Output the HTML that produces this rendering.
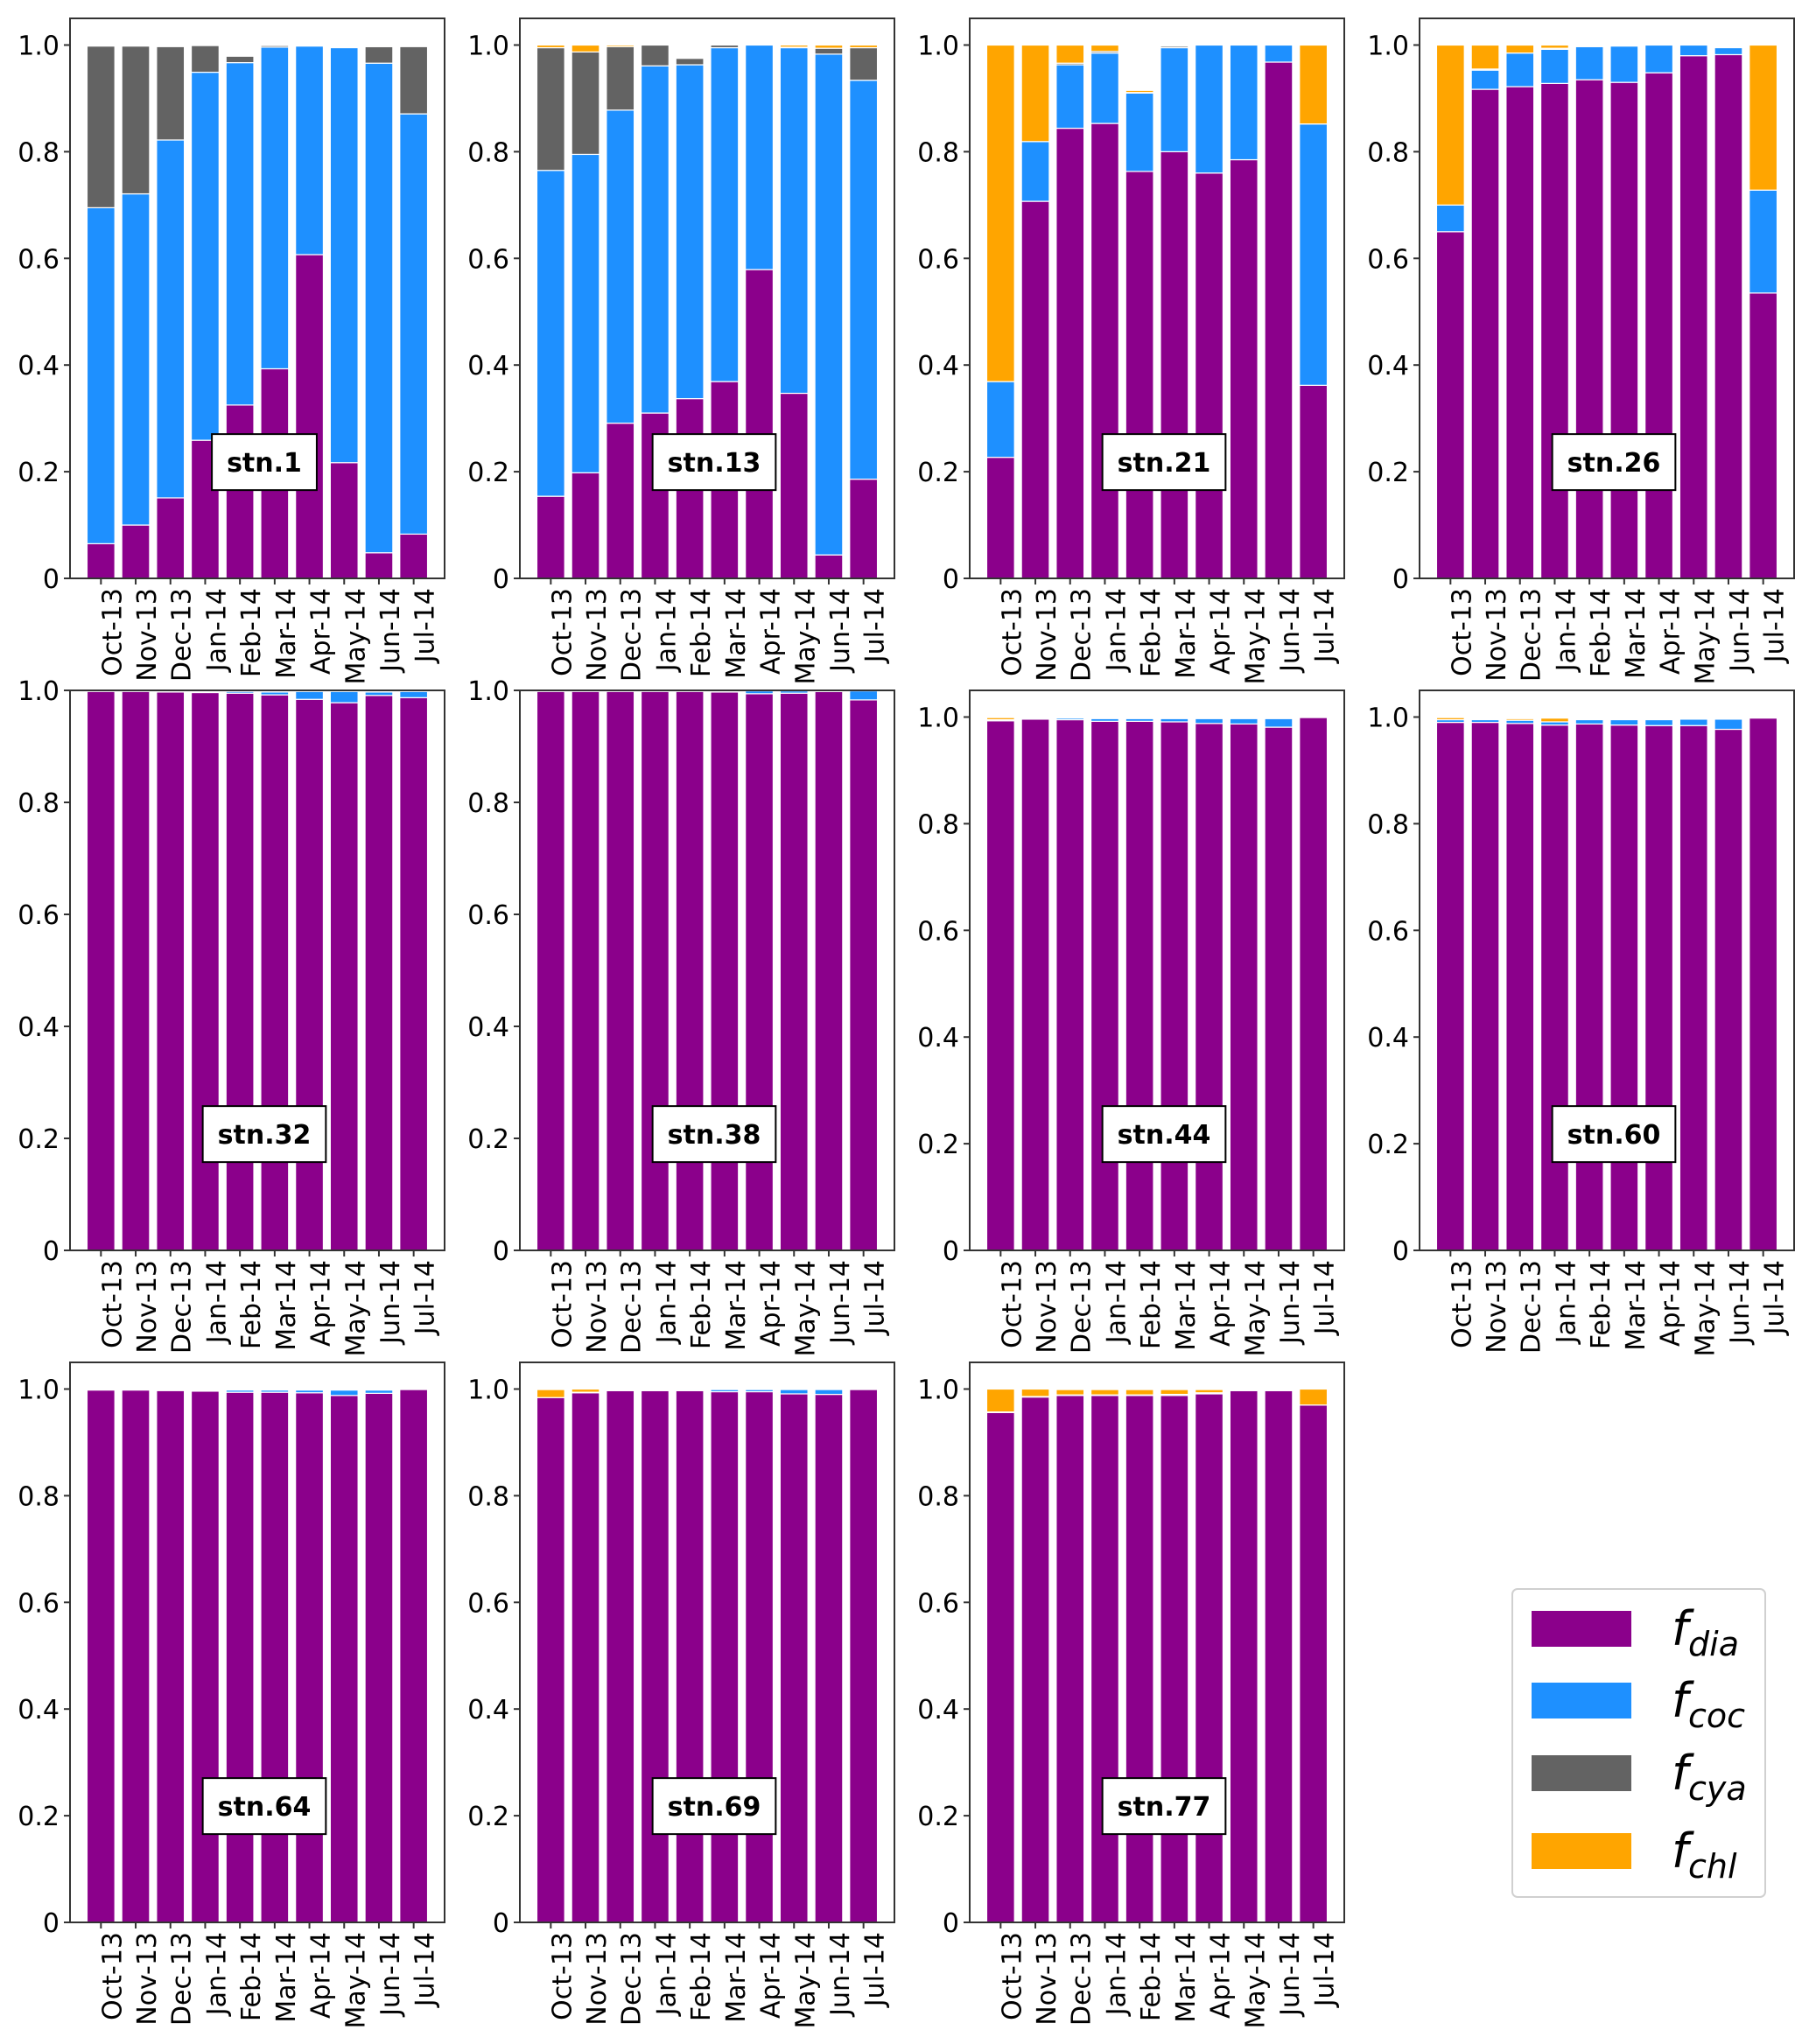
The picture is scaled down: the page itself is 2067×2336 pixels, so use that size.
<!DOCTYPE html>
<html><head><meta charset="utf-8"><style>
html,body{margin:0;padding:0;background:#fff;}
svg{display:block;font-family:"DejaVu Sans","Liberation Sans",sans-serif;}
</style></head><body>
<svg id="fig" xmlns="http://www.w3.org/2000/svg" width="2067" height="2336" viewBox="0 0 2067 2336">
<rect x="0" y="0" width="2067" height="2336" fill="#fff"/>
<g id="legend">
<rect x="1728" y="1816" width="289" height="352" rx="6" fill="#fff" stroke="#d0d0d0" stroke-width="2"/>
<rect x="1750" y="1841" width="114" height="41" fill="#8B008B"/>
<rect x="1750" y="1923" width="114" height="41" fill="#1E90FF"/>
<rect x="1750" y="2006" width="114" height="41" fill="#636363"/>
<rect x="1750" y="2095" width="114" height="41" fill="#FFA500"/>
<text x="1910" y="1880" font-size="54" font-style="italic">f<tspan dy="12" font-size="38">dia</tspan></text>
<text x="1910" y="1962" font-size="54" font-style="italic">f<tspan dy="12" font-size="38">coc</tspan></text>
<text x="1910" y="2045" font-size="54" font-style="italic">f<tspan dy="12" font-size="38">cya</tspan></text>
<text x="1910" y="2134" font-size="54" font-style="italic">f<tspan dy="12" font-size="38">chl</tspan></text>
</g>
</svg>
<script>
const months = ["Oct-13","Nov-13","Dec-13","Jan-14","Feb-14","Mar-14","Apr-14","May-14","Jun-14","Jul-14"];
const stations = ["stn.1","stn.13","stn.21","stn.26","stn.32","stn.38","stn.44","stn.60","stn.64","stn.69","stn.77"];
const yMaxes = [1.05,1.05,1.05,1.05,1.0,1.0,1.05,1.05,1.05,1.05,1.05];
const yTicks = [0,0.2,0.4,0.6,0.8,1.0];
const yTickLabels = ["0","0.2","0.4","0.6","0.8","1.0"];
const dia = [
 [0.065,0.10,0.151,0.259,0.325,0.393,0.607,0.217,0.048,0.083],
 [0.154,0.198,0.291,0.31,0.337,0.369,0.579,0.347,0.044,0.186],
 [0.227,0.707,0.844,0.853,0.763,0.8,0.76,0.785,0.968,0.362],
 [0.65,0.917,0.922,0.928,0.935,0.93,0.948,0.98,0.982,0.535],
 [0.998,0.998,0.997,0.996,0.995,0.992,0.984,0.978,0.991,0.987],
 [0.998,0.998,0.998,0.998,0.998,0.997,0.994,0.995,0.998,0.983],
 [0.993,0.996,0.995,0.992,0.992,0.991,0.988,0.987,0.981,0.999],
 [0.99,0.99,0.988,0.985,0.987,0.985,0.984,0.984,0.977,0.998],
 [0.998,0.998,0.997,0.996,0.994,0.994,0.993,0.988,0.992,0.999],
 [0.984,0.993,0.997,0.997,0.997,0.995,0.995,0.991,0.99,0.999],
 [0.956,0.985,0.988,0.988,0.988,0.988,0.991,0.997,0.997,0.97]
];
const coc = [
 [0.630,0.621,0.671,0.690,0.642,0.603,0.391,0.778,0.918,0.788],
 [0.611,0.597,0.587,0.651,0.626,0.626,0.421,0.648,0.939,0.748],
 [0.142,0.112,0.119,0.132,0.147,0.195,0.24,0.215,0.032,0.49],
 [0.05,0.036,0.063,0.064,0.062,0.068,0.052,0.02,0.013,0.193],
 [0,0,0,0,0.003,0.005,0.014,0.02,0.006,0.011],
 [0,0,0,0,0,0.001,0.005,0.004,0.001,0.016],
 [0.002,0.002,0.003,0.005,0.005,0.006,0.009,0.01,0.016,0],
 [0.005,0.005,0.006,0.006,0.008,0.01,0.011,0.012,0.019,0],
 [0,0,0,0.001,0.004,0.004,0.005,0.01,0.006,0],
 [0,0.001,0.001,0.001,0.002,0.004,0.004,0.008,0.009,0],
 [0.001,0.001,0.001,0.001,0.001,0.002,0.002,0.001,0.001,0]
];
const cya = [
 [0.303,0.277,0.175,0.050,0.012,0.003,0,0,0.031,0.126],
 [0.23,0.192,0.119,0.039,0.012,0.005,0,0.001,0.011,0.061],
 [0,0,0.003,0.003,0.001,0.003,0,0,0,0],
 [0,0.002,0,0.002,0,0,0,0,0,0],
 [0,0,0,0,0,0,0,0,0,0],
 [0,0,0,0,0,0,0,0,0,0],
 [0,0,0,0,0,0,0,0,0,0],
 [0,0,0,0,0,0,0,0,0,0],
 [0,0,0,0,0,0,0,0,0,0],
 [0,0,0,0,0,0,0,0,0,0],
 [0,0,0,0,0,0,0,0,0,0]
];
const chl = [
 [0,0,0,0,0,0,0,0,0.002,0],
 [0.005,0.013,0.003,0,0,0,0,0.004,0.006,0.005],
 [0.631,0.181,0.034,0.012,0.004,0.002,0,0,0,0.148],
 [0.30,0.045,0.015,0.006,0.002,0,0,0,0,0.272],
 [0,0,0,0,0,0,0,0,0,0],
 [0,0,0,0,0,0,0,0,0,0],
 [0.004,0,0,0,0,0,0,0,0,0],
 [0.004,0,0.003,0.007,0,0,0,0,0,0],
 [0,0,0,0,0,0,0,0,0,0],
 [0.015,0.006,0,0,0,0,0,0,0,0],
 [0.043,0.014,0.01,0.01,0.01,0.009,0.006,0,0,0.03]
];
const NS = "http://www.w3.org/2000/svg";
const svg = document.getElementById("fig");
const colors = ["#8B008B","#1E90FF","#636363","#FFA500"];
const series = [dia,coc,cya,chl];
const segNames = ["dia","coc","cya","chl"];
function mk(tag, attrs, parent){
  const el = document.createElementNS(NS, tag);
  for (const k in attrs) el.setAttribute(k, attrs[k]);
  parent.appendChild(el);
  return el;
}
const W = 428, H = 640;
stations.forEach((stn, si) => {
  const col = si % 4, row = Math.floor(si / 4);
  const left = 80 + 514 * col, top = 21 + 768 * row;
  const ymax = yMaxes[si];
  const xScale = i => left + (i + 0.89) / 10.78 * W;
  const yScale = v => top + H - v / ymax * H;
  const g = mk("g", {}, svg);
  
  
  const bw = 0.8 / 10.78 * W;
  months.forEach((m, i) => {
    let base = 0;
    series.forEach((s, k) => {
      const v = s[si][i];
      if (v <= 0) return;
      const y0 = yScale(base), y1 = yScale(base + v);
      const r = mk("rect", {x: xScale(i) - bw/2, y: y1, width: bw, height: Math.max(y0 - y1, 0.5), fill: colors[k], stroke: "#fff", "stroke-width": 1.2}, g);
      
      
      base += v;
    });
  });
  const frame = mk("rect", {x: left, y: top, width: W, height: H, fill: "none", stroke: "#333", "stroke-width": 2}, g);
  
  
  yTicks.forEach((t, j) => {
    const y = yScale(t);
    mk("line", {x1: left - 7, x2: left, y1: y, y2: y, stroke: "#333", "stroke-width": 2}, g);
    const tx = mk("text", {x: left - 12, y: y + 11, "font-size": 30, "text-anchor": "end", fill: "#000"}, g);
    tx.textContent = yTickLabels[j];
    
    
  });
  months.forEach((m, i) => {
    const x = xScale(i);
    mk("line", {x1: x, x2: x, y1: top + H, y2: top + H + 7, stroke: "#333", "stroke-width": 2}, g);
    const tx = mk("text", {x: 0, y: 0, "font-size": 30, "text-anchor": "end", transform: "translate(" + (x + 23) + "," + (top + H + 11) + ") rotate(-90)", fill: "#000"}, g);
    tx.textContent = m;
    
    
  });
  const cx = left + W/2 + 8, cy = top + H - 0.218 * (H / 1.05);
  const box = mk("rect", {x: cx - 60, y: cy - 32, width: 120, height: 64, fill: "#fff", stroke: "#000", "stroke-width": 2}, g);
  
  
  const lab = mk("text", {x: cx, y: cy + 11, "font-size": 30, "font-weight": "bold", "text-anchor": "middle", fill: "#000"}, g);
  lab.textContent = stn;
  
  
  const tw = lab.getComputedTextLength ? lab.getComputedTextLength() : 90;
  box.setAttribute("x", cx - tw/2 - 17);
  box.setAttribute("width", tw + 34);
});
svg.appendChild(document.getElementById("legend"));
</script>
</body></html>
